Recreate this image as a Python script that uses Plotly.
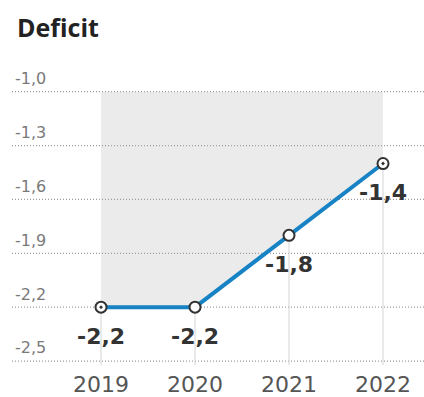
import plotly.graph_objects as go

years = [2019, 2020, 2021, 2022]
deficit = [-2.2, -2.2, -1.8, -1.4]
ytick_vals = [-2.5, -2.2, -1.9, -1.6, -1.3, -1.0]
ytick_text = ["-2,5", "-2,2", "-1,9", "-1,6", "-1,3", "-1,0"]
title_text = "Deficit"

X_RANGE = [2018.053, 2022.436]
Y_RANGE = [-2.522, -0.7956]
SHADE_TOP = -1.0

def fmt(v):
    return f"{v:.1f}".replace(".", ",")

fig = go.Figure()

# shaded area between top line and data line
fig.add_trace(go.Scatter(x=years, y=[SHADE_TOP] * len(years), mode="lines",
                         line=dict(width=0, color="#ebebeb"), hoverinfo="skip", showlegend=False))
fig.add_trace(go.Scatter(x=years, y=deficit, mode="lines", fill="tonexty",
                         fillcolor="#ebebeb", line=dict(width=0, color="#ebebeb"),
                         hoverinfo="skip", showlegend=False))

# dotted horizontal gridlines (drawn above the shade)
gx, gy = [], []
for v in ytick_vals:
    gx += [X_RANGE[0], X_RANGE[1], None]
    gy += [v, v, None]
fig.add_trace(go.Scatter(x=gx, y=gy, mode="lines",
                         line=dict(width=1.2, color="#9c9c9c", dash="1px,2px"),
                         hoverinfo="skip", showlegend=False))

# vertical drop lines from each point to the bottom
dx, dy = [], []
for x, v in zip(years, deficit):
    dx += [x, x, None]
    dy += [Y_RANGE[0], v, None]
fig.add_trace(go.Scatter(x=dx, y=dy, mode="lines",
                         line=dict(width=1, color="#d4d4d4"),
                         hoverinfo="skip", showlegend=False))

# main line
symbols = ["circle-dot", "circle", "circle", "circle-dot"]
fig.add_trace(go.Scatter(x=years, y=deficit, mode="lines+markers",
                         line=dict(width=4, color="#1783c4"),
                         marker=dict(size=11, color="white", symbol=symbols,
                                     line=dict(width=2, color="#333333")),
                         showlegend=False, cliponaxis=False))

for x, v in zip(years, deficit):
    fig.add_annotation(x=x, y=v, text=fmt(v), showarrow=False, yshift=-29,
                       font=dict(family="DejaVu Sans", size=22, color="#333333", weight="bold"))

fig.update_layout(
    width=424, height=397,
    margin=dict(l=12, r=0, t=55, b=29),
    paper_bgcolor="white", plot_bgcolor="white",
    title=dict(text="<b>" + title_text + "</b>", x=17 / 424, xanchor="left", xref="container",
               y=1 - 28 / 397, yanchor="middle", yref="container",
               font=dict(family="Open Sans", size=25, color="#222222")),
    xaxis=dict(range=X_RANGE, tickvals=years, ticktext=[str(y) for y in years],
               showgrid=False, zeroline=False, showline=False, ticks="",
               ticklabelstandoff=4,
               tickfont=dict(family="DejaVu Sans", size=22, color="#555555")),
    yaxis=dict(range=Y_RANGE, tickvals=ytick_vals, ticktext=ytick_text,
               showgrid=False, zeroline=False, showline=False, ticks="",
               ticklabelposition="inside top", ticklabelshift=-2,
               tickfont=dict(family="DejaVu Sans", size=16, color="#7a7a7a")),
)

fig.write_html("out.html")
